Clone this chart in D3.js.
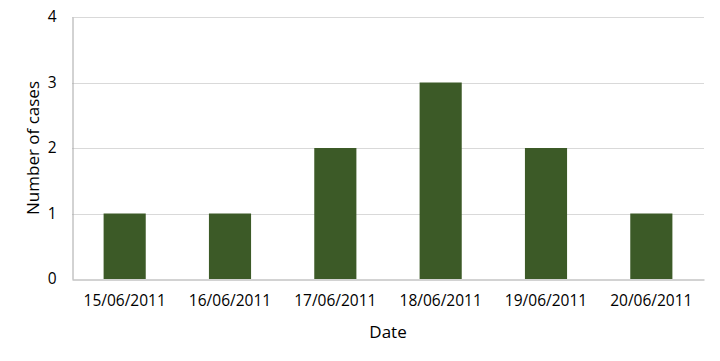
<!DOCTYPE html>
<html>
<head>
<meta charset="utf-8">
<script src="https://cdn.jsdelivr.net/npm/d3@7"></script>
<style>
  body { margin: 0; background: #fff; }
  svg text { font-family: "Open Sans", sans-serif; fill: #000; }
</style>
</head>
<body>
<div id="chart"></div>
<script>
const dates = ['15/06/2011', '16/06/2011', '17/06/2011', '18/06/2011', '19/06/2011', '20/06/2011'];
const cases = [1, 1, 2, 3, 2, 1];
const yTicks = [0, 1, 2, 3, 4];

const width = 720;
const height = 361;
const margin = {top: 17, right: 16, bottom: 82, left: 72};

const svg = d3.select('#chart')
    .append('svg')
    .attr('width', width)
    .attr('height', height);

const x = d3.scaleBand()
    .domain(dates)
    .range([margin.left, width - margin.right])
    .paddingInner(0.6)
    .paddingOuter(0.3);

const y = d3.scaleLinear()
    .domain([0, 4])
    .range([height - margin.bottom, margin.top]);

// gridlines
svg.append('g')
    .selectAll('line')
    .data(yTicks.filter(d => d > 0))
    .join('line')
    .attr('x1', margin.left)
    .attr('x2', width - margin.right)
    .attr('y1', d => Math.round(y(d)) + 0.5)
    .attr('y2', d => Math.round(y(d)) + 0.5)
    .attr('stroke', '#d9d9d9')
    .attr('stroke-width', 1);

// bars
svg.append('g')
    .selectAll('rect')
    .data(dates)
    .join('rect')
    .attr('x', d => x(d))
    .attr('y', (d, i) => y(cases[i]))
    .attr('width', x.bandwidth())
    .attr('height', (d, i) => y(0) - y(cases[i]))
    .attr('fill', '#3c5a27');

// y axis
const yAxis = svg.append('g')
    .attr('transform', `translate(${margin.left + 0.5},0)`)
    .call(d3.axisLeft(y).tickValues(yTicks).tickFormat(d3.format('d')).tickSize(0).tickPadding(16));
yAxis.select('.domain').attr('stroke', '#a6a6a6');
yAxis.selectAll('text').attr('font-size', 15.5);

// x axis
const xAxis = svg.append('g')
    .attr('transform', `translate(0,${Math.round(y(0)) + 0.5})`)
    .call(d3.axisBottom(x).tickSize(0).tickPadding(15));
xAxis.select('.domain').attr('stroke', '#a6a6a6');
xAxis.selectAll('text').attr('font-size', 15.5);

// axis titles
svg.append('text')
    .attr('x', (margin.left + width - margin.right) / 2)
    .attr('y', 338)
    .attr('text-anchor', 'middle')
    .attr('font-size', 17)
    .text('Date');

svg.append('text')
    .attr('transform', `translate(39,${(y(0) + y(4)) / 2}) rotate(-90)`)
    .attr('text-anchor', 'middle')
    .attr('font-size', 17)
    .text('Number of cases');
</script>
</body>
</html>
